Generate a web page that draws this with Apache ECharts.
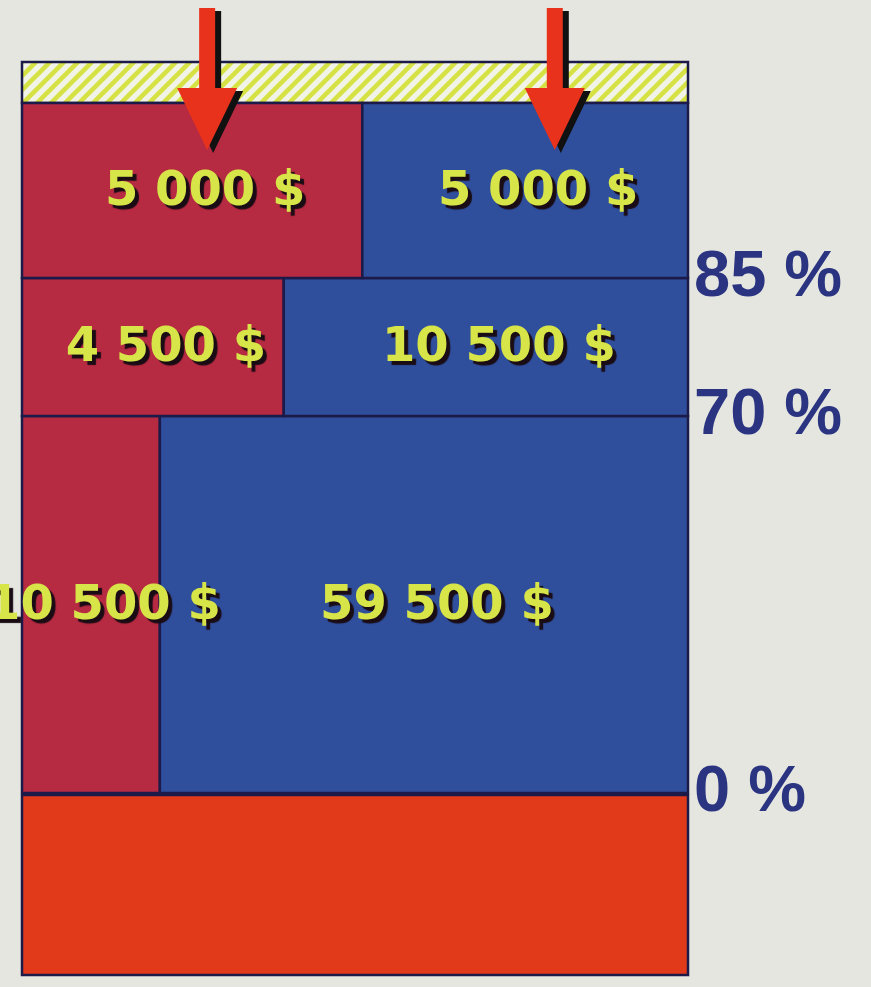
<!DOCTYPE html>
<html>
<head>
<meta charset="utf-8">
<script src="https://cdn.jsdelivr.net/npm/echarts@6/dist/echarts.min.js"></script>
<style>
  html, body { margin: 0; padding: 0; background: #e4e6df; }
  #main { width: 871px; height: 987px; }
</style>
</head>
<body>
<div id="main"></div>
<script>
// rows from bottom to top (y in chart units, x as share of the width)
var rowLabels = ['0 %', '70 %', '85 %'];
var rowBottom = [18.2, 55.9, 69.7];
var rowTop = [55.9, 69.7, 87.2];
var leftAmount = [10500, 4500, 5000];
var rightAmount = [59500, 10500, 5000];
var splitShare = [0.207, 0.393, 0.511];
var baseBand = [0, 18];
var hatchBand = [87.2, 91.3];
var arrowX = [0.278, 0.8];
var arrowFrom = 96.7, arrowTo = 82.5;

var money = function (v) {
  return String(v).replace(/\B(?=(\d{3})+(?!\d))/g, ' ') + ' $';
};

var cellColors = ['#b62a42', '#2f4f9d'];
var lineColor = '#1c1a48';

// hatch pattern for the top band
var hatch = document.createElement('canvas');
hatch.width = 14; hatch.height = 14;
(function () {
  var c = hatch.getContext('2d');
  c.fillStyle = '#f1f3e6';
  c.fillRect(0, 0, 14, 14);
  c.strokeStyle = '#d6e244';
  c.lineWidth = 4.5;
  c.beginPath();
  c.moveTo(-7, 7); c.lineTo(7, -7);
  c.moveTo(0, 14); c.lineTo(14, 0);
  c.moveTo(7, 21); c.lineTo(21, 7);
  c.stroke();
})();

var cells = [];
for (var i = 0; i < rowLabels.length; i++) {
  cells.push({ x0: 0, x1: splitShare[i], y0: rowBottom[i], y1: rowTop[i], kind: 0, text: money(leftAmount[i]) });
  cells.push({ x0: splitShare[i], x1: 1, y0: rowBottom[i], y1: rowTop[i], kind: 1, text: money(rightAmount[i]) });
}

var chart = echarts.init(document.getElementById('main'));

var rectOf = function (api, x0, x1, y0, y1) {
  var a = api.coord([x0, y1]), b = api.coord([x1, y0]);
  return { x: a[0], y: a[1], width: b[0] - a[0], height: b[1] - a[1] };
};

chart.setOption({
  backgroundColor: '#e4e6df',
  animation: false,
  grid: { left: 22, right: 183, top: 0, bottom: 12 },
  xAxis: { type: 'value', min: 0, max: 1, show: false },
  yAxis: { type: 'value', min: 0, max: 97.5, show: false },
  series: [
    {
      // bottom band and hatched top band
      type: 'custom',
      clip: false,
      data: [[0, 1, baseBand[0], baseBand[1], 0], [0, 1, hatchBand[0], hatchBand[1], 1]],
      renderItem: function (params, api) {
        var r = rectOf(api, api.value(0), api.value(1), api.value(2), api.value(3));
        var fill = api.value(4) === 0 ? '#e03a1a' : { image: hatch, repeat: 'repeat' };
        return { type: 'rect', shape: r, style: { fill: fill, stroke: lineColor, lineWidth: 2.5 } };
      }
    },
    {
      // cells with amounts
      type: 'custom',
      clip: false,
      data: cells.map(function (c, k) { return [c.x0, c.x1, c.y0, c.y1, k]; }),
      renderItem: function (params, api) {
        var c = cells[params.dataIndex];
        var r = rectOf(api, c.x0, c.x1, c.y0, c.y1);
        return {
          type: 'group',
          children: [
            { type: 'rect', shape: r, style: { fill: cellColors[c.kind], stroke: lineColor, lineWidth: 2.5 } },
            {
              type: 'text',
              z2: 10,
              style: {
                x: r.x + r.width / 2 + 13,
                y: r.y + r.height / 2 + 2,
                text: c.text,
                align: 'center',
                verticalAlign: 'middle',
                font: 'bold 48px "DejaVu Sans"',
                fill: '#d8e548',
                textShadowColor: '#1a0c14',
                textShadowOffsetX: 4,
                textShadowOffsetY: 4,
                textShadowBlur: 1
              }
            }
          ]
        };
      }
    },
    {
      // percent marks at row bottoms
      type: 'custom',
      clip: false,
      data: rowBottom.map(function (v, k) { return [1, v, k]; }),
      renderItem: function (params, api) {
        var p = api.coord([api.value(0), api.value(1)]);
        return {
          type: 'text',
          style: {
            x: p[0] + 6,
            y: p[1],
            text: rowLabels[params.dataIndex],
            align: 'left',
            verticalAlign: 'middle',
            font: 'bold 65px "Liberation Sans"',
            fill: '#2b3481'
          }
        };
      }
    },
    {
      // red arrows
      type: 'custom',
      clip: false,
      z: 5,
      data: arrowX.map(function (x) { return [x, arrowFrom, arrowTo]; }),
      renderItem: function (params, api) {
        var top = api.coord([api.value(0), api.value(1)]);
        var tip = api.coord([api.value(0), api.value(2)]);
        var x = tip[0], hw = 8, headW = 30, headL = 62;
        var pts = function (dx, dy) {
          return [
            [x - hw + dx, top[1] + dy], [x + hw + dx, top[1] + dy],
            [x + hw + dx, tip[1] - headL + dy], [x + headW + dx, tip[1] - headL + dy],
            [x + dx, tip[1] + dy],
            [x - headW + dx, tip[1] - headL + dy], [x - hw + dx, tip[1] - headL + dy]
          ];
        };
        return {
          type: 'group',
          children: [
            { type: 'polygon', shape: { points: pts(6, 3) }, style: { fill: '#111' } },
            { type: 'polygon', shape: { points: pts(0, 0) }, style: { fill: '#e8321c' } }
          ]
        };
      }
    }
  ]
});
</script>
</body>
</html>
